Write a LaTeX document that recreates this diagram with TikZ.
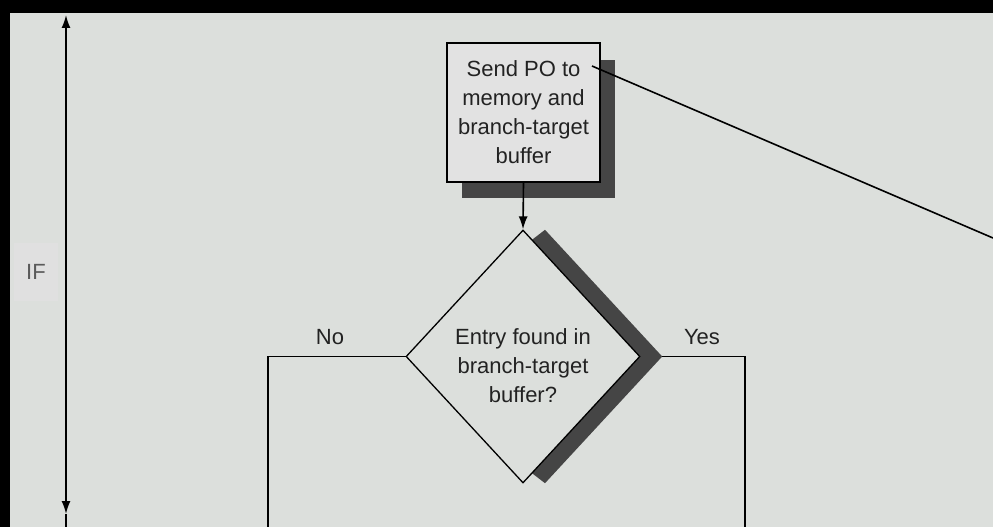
\documentclass[tikz,border=0pt]{standalone}
\usepackage{fontspec}
\setmainfont{Liberation Sans}
\usetikzlibrary{shapes.geometric,arrows.meta,calc}
\definecolor{bg}{HTML}{DCDFDC}
\definecolor{boxfill}{HTML}{E2E2E2}
\definecolor{patch}{HTML}{E0E0E0}
\definecolor{shadowgray}{HTML}{454545}
\definecolor{ink}{HTML}{222222}
\definecolor{iftext}{HTML}{5A5A5A}
\begin{document}
\begin{tikzpicture}[x=1pt,y=-1pt,
  lbl/.style={font=\fontsize{22}{29}\selectfont, text=ink, align=center, inner sep=0pt},
  wire/.style={draw=black, line width=1.6pt},
  tipend/.style={-{Latex[length=13pt,width=9pt]}},
  tipboth/.style={{Latex[length=13pt,width=9pt]}-{Latex[length=13pt,width=9pt]}},
]
\fill[bg] (0,0) rectangle (993,527);
\useasboundingbox (0,0) rectangle (993,527);
\fill[black] (0,0) rectangle (993,13);
\fill[black] (0,0) rectangle (10,527);

% IF dimension arrow
\coordinate (iftop) at (66,15);
\coordinate (ifbot) at (66,514);
\coordinate (ifend) at (66,527);
\draw[wire, tipboth] (iftop) -- (ifbot);
\draw[wire] (ifbot) -- (ifend);
\node[lbl, text=iftext, fill=patch, minimum width=44pt, minimum height=58pt] (iflabel) at (36,272) {IF};

% box with shadow
\node[fill=shadowgray, minimum width=153pt, minimum height=138pt, inner sep=0pt] (sendshadow) at (538.5,129) {};
\node[lbl, draw=black, line width=2pt, fill=boxfill, minimum width=153pt, minimum height=139pt] (send) at (523.5,112.5)
  {Send PO to\\memory and\\branch-target\\buffer};

% decision
\node[diamond, minimum width=234pt, minimum height=253pt, inner sep=0pt] (entry) at (523,356.5) {};
\coordinate (nobottom) at (268,527);
\coordinate (yesbottom) at (745,527);
\draw[wire] (entry.west) -| (nobottom);
\draw[wire] (entry.east) -| (yesbottom);
\fill[shadowgray] ($(entry.north)+(22,0)$) -- ($(entry.east)+(22,0)$) -- ($(entry.south)+(22,0)$)
  -- ($(entry.south)+(9,-10)$) -- (entry.center) -- ($(entry.north)+(9,10)$) -- cycle;
\node[diamond, draw=black, line width=1.3pt, fill=bg, minimum width=234pt, minimum height=253pt, inner sep=0pt] (entryshape) at (entry.center) {};
\node[lbl] (entrytext) at (523,366) {Entry found in\\branch-target\\buffer?};

\draw[wire, tipend] (send.south) -- (entryshape.north);

\node[lbl] (nolabel) at (330,337) {No};
\node[lbl] (yeslabel) at (702,337) {Yes};

% pointer line
\coordinate (ptr) at (592,66);
\coordinate (ptrend) at (993,238);
\draw[line width=1.6pt] (ptr) -- (ptrend);
\end{tikzpicture}
\end{document}
